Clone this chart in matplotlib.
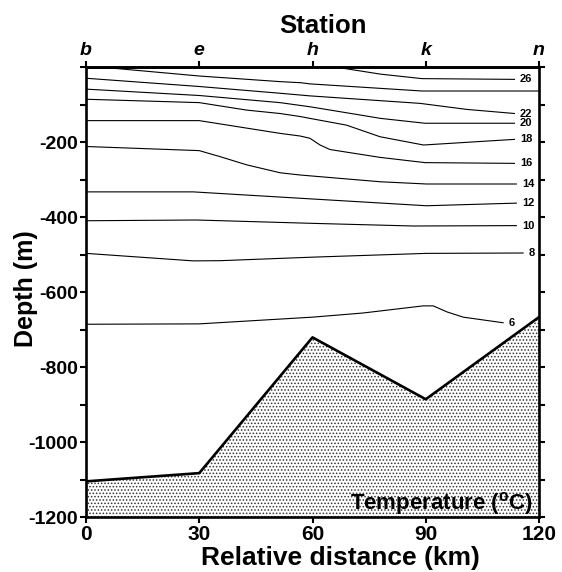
import matplotlib
matplotlib.use("Agg")
import matplotlib.pyplot as plt
from matplotlib.ticker import MultipleLocator

plt.rcParams['font.family'] = ['Liberation Sans', 'DejaVu Sans']
plt.rcParams['font.weight'] = 'bold'
plt.rcParams['axes.unicode_minus'] = False
plt.rcParams['mathtext.fontset'] = 'custom'
plt.rcParams['mathtext.rm'] = 'Liberation Sans:bold'
plt.rcParams['mathtext.bf'] = 'Liberation Sans:bold'
plt.rcParams['hatch.linewidth'] = 0.7
plt.rcParams['hatch.color'] = '#333333'

# stations along the section (km)
station_km = [0, 30, 60, 90, 120]
station_names = ['b', 'e', 'h', 'k', 'n']

# bottom topography (km, depth m)
topo_km = [0, 30, 60, 90, 120]
topo_depth = [1105, 1083, 721, 886, 667]

# isotherms (km, depth m)
iso_26 = [(66, 0), (78, 19), (89, 31), (113.5, 33)]
iso_24 = [(0, 3), (8, 4), (30, 24), (51.4, 39), (57, 42), (59.3, 45), (89, 64), (120, 64)]
iso_22 = [(0, 30), (30, 52), (51.4, 70), (59.3, 77), (88.5, 97), (100.8, 113), (113.5, 124)]
iso_20 = [(0, 59), (30, 76), (51.4, 95), (59.3, 106), (69, 122), (78, 137), (89.8, 150), (113.5, 150)]
iso_18 = [(0, 86), (30, 95), (42.6, 115), (51.4, 124), (56.7, 132), (59.3, 137), (69, 155),
          (77.9, 186), (89.4, 208), (113.5, 193)]
iso_16 = [(0, 143), (30, 143), (51.4, 177), (56.7, 184), (59.3, 190), (62, 208), (64.6, 220),
          (69, 227), (77.9, 241), (89.8, 255), (113.5, 257)]
iso_14 = [(0, 212), (30, 223), (35.5, 239), (42.6, 261), (51.4, 282), (56.7, 288), (77.9, 306),
          (90.2, 312), (114, 312)]
iso_12 = [(0, 333), (28.4, 333), (56.7, 350), (90.2, 370), (114, 363)]
iso_10 = [(0, 410), (29.3, 408), (60.2, 417), (86.7, 424), (114, 423)]
iso_8 = [(0, 497), (28.4, 517), (35.5, 516.5), (60.2, 507), (90.2, 497), (115.8, 496)]
iso_6 = [(0, 686), (30, 685), (60.1, 667), (73.4, 656), (89.3, 637), (92, 637), (95.6, 653),
         (99.9, 667), (110.5, 682)]

isotherms = [(26, iso_26, True), (24, iso_24, False), (22, iso_22, True), (20, iso_20, True),
             (18, iso_18, True), (16, iso_16, True), (14, iso_14, True), (12, iso_12, True),
             (10, iso_10, True), (8, iso_8, True), (6, iso_6, True)]

fig = plt.figure(figsize=(5.62, 5.72), dpi=100)
ax = fig.add_axes([86 / 562, 1 - 517 / 572, 453 / 562, 450 / 572])

# seabed
ax.fill_between(topo_km, [-d for d in topo_depth], -1200, facecolor='white',
                hatch='.....', edgecolor='#333333', linewidth=0, zorder=2)
ax.plot(topo_km, [-d for d in topo_depth], color='black', lw=1.9, zorder=3)

for temp, pts, labelled in isotherms:
    xs = [p[0] for p in pts]
    ys = [-p[1] for p in pts]
    ax.plot(xs, ys, color='black', lw=0.8, zorder=1)
    if labelled:
        ax.text(xs[-1] + 1.5, ys[-1], str(temp), fontsize=8, fontweight='bold',
                ha='left', va='center', zorder=4)

ax.set_xlim(0, 120)
ax.set_ylim(-1200, 0)
ax.set_xticks(station_km)
ax.set_yticks([-1200, -1000, -800, -600, -400, -200])
ax.yaxis.set_minor_locator(MultipleLocator(100))
for lbl in ax.get_xticklabels():
    lbl.set_fontsize(15)
for lbl in ax.get_yticklabels():
    lbl.set_fontsize(14)

ax.tick_params(axis='x', which='major', direction='out', length=4, width=1.5, pad=2)
ax.tick_params(axis='y', which='both', direction='out', length=4, width=1.5, pad=1.5,
               right=True)
for side in ['left', 'right', 'top', 'bottom']:
    ax.spines[side].set_linewidth(1.9)

top = ax.secondary_xaxis('top')
top.set_xticks(station_km, station_names)
top.tick_params(direction='out', length=4, width=1.5, pad=2)
for lbl in top.get_xticklabels():
    lbl.set_fontsize(14)
    lbl.set_fontstyle('italic')
    lbl.set_fontweight('bold')
top.spines['top'].set_linewidth(1.9)

fig.text(322.5 / 562, 1 - 33 / 572, 'Station', fontsize=18.5, fontweight='bold',
         ha='center', va='baseline')
fig.text(340 / 562, 1 - 565 / 572, 'Relative distance (km)', fontsize=19,
         fontweight='bold', ha='center', va='baseline')
fig.text(26 / 562, 1 - 289 / 572, 'Depth (m)', fontsize=18, fontweight='bold',
         rotation=90, ha='center', va='center')
ax.text(0.987, 0.016, r'Temperature ($^{\mathbf{o}}$C)', transform=ax.transAxes,
        fontsize=16, fontweight='bold', ha='right', va='baseline', zorder=5)

fig.savefig('out.png', dpi=100)
